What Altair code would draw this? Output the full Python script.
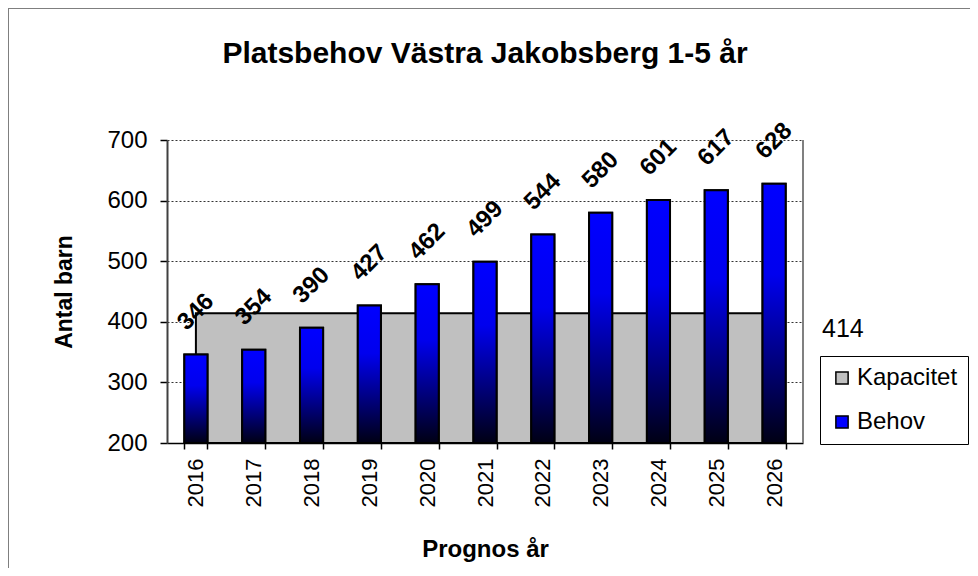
import altair as alt
import pandas as pd

FONT = "Liberation Sans"

years = ["2016", "2017", "2018", "2019", "2020", "2021", "2022", "2023", "2024", "2025", "2026"]
behov = [346, 354, 390, 427, 462, 499, 544, 580, 601, 617, 628]
kapacitet = [414, 414, 414, 414, 414, 414, 414, 414, 414, 414, 414]
series_names = ["Kapacitet", "Behov"]
series_colors = ["#c0c0c0", "#0000ff"]
y_ticks = [200, 300, 400, 500, 600, 700]

bars_df = pd.DataFrame({"year": years, "value": behov, "serie": series_names[1]})
kap_df = pd.DataFrame({"year": years, "value": kapacitet, "serie": series_names[0]})
kap_last = pd.DataFrame({"value": [kapacitet[-1]]})
one = pd.DataFrame({"a": [0]})

W, H = 636, 303

x_enc = alt.X(
    "year:N", sort=years,
    scale=alt.Scale(paddingInner=0.6, paddingOuter=0.3),
    axis=alt.Axis(
        title="Prognos år", labelAngle=270, labelAlign="right", labelBaseline="middle",
        labelFontSize=22, labelPadding=9, labelColor="black", labelFont=FONT,
        tickBand="extent", tickSize=6, tickColor="black", tickWidth=1.5,
        domainColor="black", domainWidth=1.5,
        titleFontSize=24, titleFontWeight="bold", titleFont=FONT, titleColor="black",
        titleX=W / 2, titleY=113, titleBaseline="alphabetic", titleAlign="center",
    ),
)
y_enc = alt.Y(
    "value:Q",
    scale=alt.Scale(domain=[200, 700], zero=False, nice=False),
    axis=alt.Axis(
        title="Antal barn", values=y_ticks, labelFontSize=24, labelColor="black", labelFont=FONT,
        labelPadding=13, grid=True, gridColor="black", gridDash=[2, 2], gridWidth=1, gridOpacity=0.8,
        tickSize=7, tickColor="black", tickWidth=1.5, domainColor="#404040", domainWidth=2,
        titleFontSize=23, titleFontWeight="bold", titleFont=FONT, titleColor="black",
        titleX=-96, titleY=H / 2, titleBaseline="alphabetic", titleAlign="center", titleAngle=270,
    ),
)
color_enc = alt.Color(
    "serie:N",
    scale=alt.Scale(domain=series_names, range=series_colors),
    legend=alt.Legend(
        title=None, orient="none", legendX=653, legendY=216,
        fillColor="white", strokeColor="black", padding=10,
        symbolType="square", symbolSize=150, symbolStrokeColor="black", symbolStrokeWidth=1.5,
        labelFontSize=24, labelFont=FONT, labelColor="black", labelOffset=3, rowPadding=20,
    ),
)

gradient = alt.Gradient(
    gradient="linear", x1=0, x2=0, y1=0, y2=1,
    stops=[
        alt.GradientStop(offset=0, color="#0000ff"),
        alt.GradientStop(offset=0.35, color="#0000ee"),
        alt.GradientStop(offset=1, color="#000014"),
    ],
)

area = alt.Chart(kap_df).mark_area(stroke="black", strokeWidth=2, opacity=1).encode(
    x=x_enc, y=y_enc, y2=alt.datum(200), color=color_enc
)
base_bar = alt.Chart(bars_df).mark_bar(stroke="black", strokeWidth=2).encode(
    x=x_enc, y=y_enc, y2=alt.datum(200), color=color_enc
)
grad_bar = alt.Chart(bars_df).mark_bar(color=gradient, stroke="black", strokeWidth=2).encode(
    x=x_enc, y=y_enc, y2=alt.datum(200)
)
labels = alt.Chart(bars_df).mark_text(
    angle=315, align="center", baseline="middle", dx=30, dy=-30,
    fontSize=24, fontWeight="bold", font=FONT, color="black",
).encode(x=x_enc, y=y_enc, text="value:Q")
kap_label = alt.Chart(kap_last).mark_text(
    align="left", baseline="top", dy=4, fontSize=25, font=FONT, color="black"
).encode(x=alt.value(655), y=y_enc, text="value:Q")
right_edge = alt.Chart(one).mark_rule(color="#808080", strokeWidth=2).encode(
    x=alt.value(W), y=alt.value(0), y2=alt.value(H)
)
border = alt.Chart(one).mark_rect(fillOpacity=0, stroke="#7f7f7f", strokeWidth=2).encode(
    x=alt.value(-159), y=alt.value(-132), x2=alt.value(1200), y2=alt.value(900)
)

chart = alt.layer(area, base_bar, grad_bar, labels, kap_label, right_edge, border).properties(
    width=W, height=H, autosize="none",
    padding={"left": 159, "top": 132, "right": 167, "bottom": 125},
    background="white",
    title=alt.TitleParams(
        text="Platsbehov Västra Jakobsberg 1-5 år", fontSize=30, fontWeight="bold", font=FONT,
        color="black", anchor="middle", frame="group", baseline="alphabetic", offset=-86,
    ),
).configure_view(strokeWidth=0)

chart.save("out.html", embed_options={"renderer": "svg", "actions": False})
